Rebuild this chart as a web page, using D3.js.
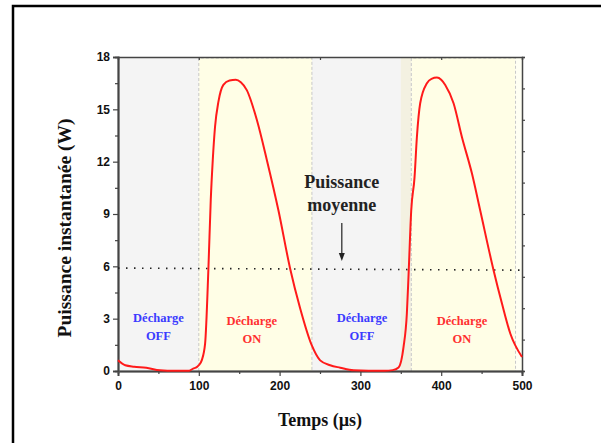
<!DOCTYPE html>
<html>
<head>
<meta charset="utf-8">
<script src="https://cdn.jsdelivr.net/npm/d3@7"></script>
<style>
  body { margin: 0; background: #fff; }
  .tick text { font-family: "Liberation Sans", Arial, sans-serif; font-weight: bold; font-size: 12px; fill: #111; }
</style>
</head>
<body>
<div id="chart"></div>
<script>
// time (µs) and instantaneous power (W)
const timeUs = [0, 9, 20, 35, 52, 70, 88, 93, 97.5, 100, 103.6, 107.8, 111.9, 114.8, 117.3, 120.1, 124.3, 130.4, 138, 145.8,
  152, 159.4, 171.8, 184.2, 198.6, 213, 225.4, 240, 250.2, 262.6, 275, 291.5, 310, 330, 340, 347.2, 353.4, 357.5, 359.6, 362.9,
  367, 369.9, 374, 382.3, 388, 394.7, 400, 405, 415.3, 425.7, 438, 448.3, 464.8, 475.2, 485.5, 500];
const powerW = [0.61, 0.33, 0.25, 0.19, 0.04, 0.01, 0.02, 0.14, 0.22, 0.33, 0.61, 1.57, 5.88, 9.8, 12.1, 14.0, 15.44, 16.4, 16.65, 16.69,
  16.55, 16.1, 14.4, 12.1, 9.2, 5.88, 3.6, 1.45, 0.61, 0.33, 0.19, 0.04, 0.02, 0.02, 0.05, 0.2, 1.38, 3.3, 5.5, 9.2,
  11.1, 13.4, 15.35, 16.5, 16.75, 16.82, 16.7, 16.4, 15.35, 13.4, 11.33, 9.2, 5.78, 3.87, 2.15, 0.8];

// discharge phases
const offPhases = [[0, 100], [240, 350]];
const onPhases = [[100, 240], [363, 492]];
const overlapPhases = [[350, 363]];
const tailPhases = [[492, 500]];

// labels of the phases (centre time)
const phaseLabels = [
  { t: 50, lines: ["Décharge", "OFF"], kind: "off" },
  { t: 165.6, lines: ["Décharge", "ON"], kind: "on" },
  { t: 302, lines: ["Décharge", "OFF"], kind: "off" },
  { t: 425.7, lines: ["Décharge", "ON"], kind: "on" }
];

// mean power (dotted line), start and end
const meanPower = [[0, 5.9], [500, 5.78]];

const xTicks = [0, 100, 200, 300, 400, 500];
const yTicks = [0, 3, 6, 9, 12, 15, 18];

const width = 601, height = 443;
const svg = d3.select("#chart").append("svg")
  .attr("width", width)
  .attr("height", height);

// outer frame
svg.append("rect")
  .attr("x", 13).attr("y", 6)
  .attr("width", 620).attr("height", 460)
  .attr("fill", "none")
  .attr("stroke", "#000")
  .attr("stroke-width", 2.5);

const x = d3.scaleLinear().domain([0, 500]).range([118, 522]);
const y = d3.scaleLinear().domain([0, 18]).range([371, 57]);

const bands = svg.append("g");
const bandRow = function(list, fill) {
  bands.selectAll(null).data(list).enter().append("rect")
    .attr("x", d => x(d[0]))
    .attr("y", y(18))
    .attr("width", d => x(d[1]) - x(d[0]))
    .attr("height", y(0) - y(18))
    .attr("fill", fill);
};
bandRow(offPhases, "#f4f4f4");
bandRow(onPhases, "#fffee6");
bandRow(overlapPhases, "#f3f1e1");
bandRow(tailPhases, "#fffff3");

// dashed borders of the ON phases
bands.selectAll(null).data(onPhases).enter().append("path")
  .attr("d", d => `M${x(d[0])},${y(0)}V${y(18) + 1}H${x(d[1])}V${y(0)}`)
  .attr("fill", "none")
  .attr("stroke", "#c8c8c8")
  .attr("stroke-dasharray", "3,2")
  .attr("stroke-width", 1);

// axes
const xAxis = svg.append("g")
  .attr("transform", `translate(0,${y(0)})`)
  .call(d3.axisBottom(x).tickValues(xTicks).tickSize(5).tickPadding(5));
svg.append("g")
  .attr("transform", `translate(0,${y(0)})`)
  .call(d3.axisBottom(x).tickValues(d3.range(50, 500, 100)).tickSize(3).tickFormat(""));

const yAxis = svg.append("g")
  .attr("transform", `translate(${x(0)},0)`)
  .call(d3.axisLeft(y).tickValues(yTicks).tickSize(5).tickPadding(3));
svg.append("g")
  .attr("transform", `translate(${x(0)},0)`)
  .call(d3.axisLeft(y).tickValues(d3.range(1.5, 18, 3)).tickSize(3).tickFormat(""));

// right border with its own ticks, no labels
const yRight = d3.scaleLinear().domain([0, 10]).range([371, 57]);
svg.append("g")
  .attr("transform", `translate(${x(500)},0)`)
  .call(d3.axisRight(yRight).ticks(10).tickSize(3).tickFormat(""));

// top border
svg.append("g")
  .attr("transform", `translate(0,${y(18)})`)
  .call(d3.axisTop(x).tickValues([100, 250, 400]).tickSize(-3).tickFormat(""));

svg.selectAll(".domain").attr("stroke", "#444").attr("stroke-width", 1.5);
svg.selectAll(".tick line").attr("stroke", "#444").attr("stroke-width", 1.2);
yAxis.select(".domain").attr("stroke", "#666").attr("stroke-width", 2.2);
xAxis.select(".domain").attr("stroke", "#555").attr("stroke-width", 2);

// mean power line
svg.append("path")
  .attr("d", d3.line().x(d => x(d[0])).y(d => y(d[1]))(meanPower))
  .attr("fill", "none")
  .attr("stroke", "#222")
  .attr("stroke-width", 1.6)
  .attr("stroke-dasharray", "1.5,6.5");

// power curve
svg.append("path")
  .datum(timeUs.map((t, i) => [t, powerW[i]]))
  .attr("d", d3.line().x(d => x(d[0])).y(d => y(d[1])).curve(d3.curveMonotoneX))
  .attr("fill", "none")
  .attr("stroke", "#ff1a1a")
  .attr("stroke-width", 2);

// phase labels
const labelG = svg.append("g")
  .attr("font-family", "'Liberation Serif', 'Times New Roman', serif")
  .attr("font-weight", "bold")
  .attr("font-size", 12.5)
  .attr("text-anchor", "middle");
phaseLabels.forEach(function(p) {
  const base = p.kind === "off" ? 322 : 325;
  p.lines.forEach(function(line, i) {
    labelG.append("text")
      .attr("x", x(p.t))
      .attr("y", base + i * 17.5)
      .attr("fill", p.kind === "off" ? "#3b3bff" : "#ff3030")
      .text(line);
  });
});

// mean power annotation
const noteT = 277;
svg.append("text")
  .attr("x", x(noteT)).attr("y", 188)
  .attr("text-anchor", "middle")
  .attr("font-family", "'Liberation Serif', 'Times New Roman', serif")
  .attr("font-weight", "bold").attr("font-size", 18)
  .attr("fill", "#222")
  .text("Puissance");
svg.append("text")
  .attr("x", x(noteT)).attr("y", 211)
  .attr("text-anchor", "middle")
  .attr("font-family", "'Liberation Serif', 'Times New Roman', serif")
  .attr("font-weight", "bold").attr("font-size", 18)
  .attr("fill", "#222")
  .text("moyenne");
svg.append("line")
  .attr("x1", x(noteT)).attr("x2", x(noteT))
  .attr("y1", 223).attr("y2", 255)
  .attr("stroke", "#222").attr("stroke-width", 1.2);
svg.append("path")
  .attr("d", `M${x(noteT) - 3},253L${x(noteT) + 3},253L${x(noteT)},261Z`)
  .attr("fill", "#222");

// axis titles
svg.append("text")
  .attr("x", 320).attr("y", 426)
  .attr("text-anchor", "middle")
  .attr("font-family", "'Liberation Serif', 'Times New Roman', serif")
  .attr("font-weight", "bold").attr("font-size", 18)
  .attr("fill", "#111")
  .text("Temps (µs)");
svg.append("text")
  .attr("transform", "translate(71,228) rotate(-90)")
  .attr("text-anchor", "middle")
  .attr("font-family", "'Liberation Serif', 'Times New Roman', serif")
  .attr("font-weight", "bold").attr("font-size", 19.5)
  .attr("fill", "#111")
  .text("Puissance instantanée (W)");
</script>
</body>
</html>
